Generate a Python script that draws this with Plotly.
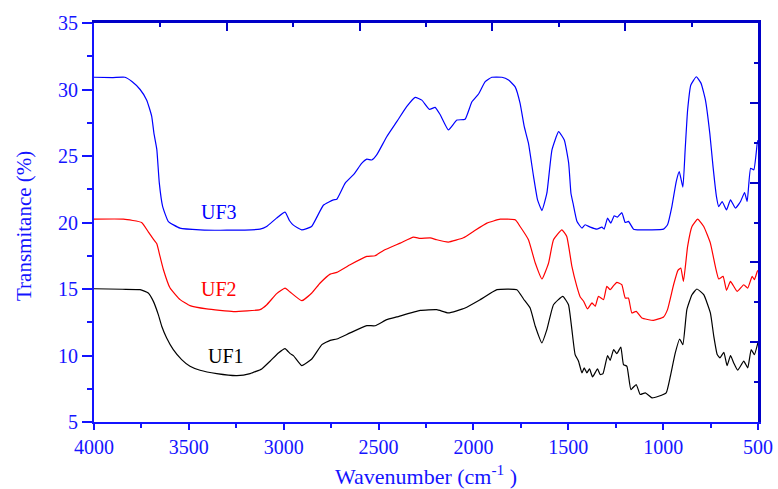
import plotly.graph_objects as go

# ---------------- data ----------------
wn_uf3 = [4000, 3900, 3837, 3800, 3757, 3722, 3696, 3684, 3669, 3656, 3638, 3608, 3547, 3441, 3300,
          3125, 3090, 3038, 2993, 2970, 2949, 2905, 2853, 2791, 2738, 2720, 2676, 2632, 2588, 2562,
          2536, 2510, 2457, 2404, 2352, 2307, 2272, 2232, 2202, 2175, 2132, 2087, 2044, 2008, 1973,
          1938, 1903, 1850, 1815, 1780, 1754, 1732, 1710, 1683, 1662, 1639, 1613, 1586, 1551, 1521,
          1498, 1486, 1475, 1454, 1428, 1411, 1384, 1349, 1323, 1311, 1293, 1276, 1258, 1241, 1218,
          1200, 1183, 1156, 1121, 998, 977, 954, 931, 915, 896, 884, 871, 854, 825, 800,
          777, 754, 737, 719, 707, 689, 666, 645, 619, 592, 571, 557, 539, 522, 504, 500]
t_uf3 = [30.92, 30.9, 30.92, 30.6, 30.0, 29.2, 28.0, 26.7, 25.5, 23.0, 21.2, 20.07, 19.58, 19.45, 19.42,
         19.5, 19.7, 20.33, 20.78, 20.15, 19.8, 19.45, 19.7, 21.3, 21.7, 21.75, 22.96, 23.6, 24.46, 24.76,
         24.7, 25.08, 26.45, 27.58, 28.71, 29.41, 29.2, 28.5, 28.66, 28.1, 26.96, 27.7, 27.76, 29.08, 29.66,
         30.59, 30.92, 30.92, 30.71, 30.2, 28.96, 27.2, 25.96, 23.45, 21.7, 20.9, 22.2, 25.46, 26.83, 26.2,
         24.46, 22.2, 21.45, 20.07, 19.58, 19.83, 19.65, 19.5, 19.65, 19.5, 20.33, 19.95, 20.5, 20.4, 20.75,
         20.0, 20.08, 19.5, 19.45, 19.5, 19.83, 21.2, 23.08, 23.83, 22.66, 25.46, 28.46, 30.34, 30.96, 30.46,
         29.2, 26.7, 24.2, 21.95, 21.2, 21.58, 20.95, 21.7, 21.08, 21.58, 22.25, 21.58, 24.08, 23.96, 25.96, 26.2]

wn_uf2 = [4000, 3845, 3749, 3714, 3690, 3669, 3652, 3634, 3599, 3546, 3494, 3406, 3265, 3125, 3089,
          3037, 2993, 2966, 2905, 2852, 2808, 2755, 2720, 2650, 2562, 2518, 2474, 2386, 2316, 2281,
          2228, 2193, 2132, 2053, 2000, 1929, 1859, 1780, 1754, 1710, 1674, 1639, 1604, 1578, 1534,
          1508, 1481, 1455, 1437, 1420, 1399, 1375, 1358, 1341, 1314, 1297, 1279, 1261, 1244, 1218,
          1200, 1183, 1165, 1142, 1112, 1051, 998, 977, 945, 922, 907, 893, 871, 848, 818,
          786, 751, 725, 707, 684, 666, 645, 610, 575, 554, 531, 519, 504, 500]
t_uf2 = [20.25, 20.25, 20.0, 19.3, 18.8, 18.4, 17.45, 16.45, 15.07, 14.2, 13.75, 13.5, 13.3, 13.45, 13.82,
         14.65, 15.07, 14.77, 14.12, 14.7, 15.45, 16.12, 16.25, 16.82, 17.45, 17.5, 17.9, 18.45, 18.9, 18.8,
         18.85, 18.7, 18.53, 18.85, 19.33, 19.95, 20.25, 20.2, 19.7, 18.7, 16.95, 15.75, 16.95, 18.7, 19.45,
         18.95, 16.7, 15.2, 14.4, 14.1, 13.5, 13.95, 13.7, 14.45, 14.2, 15.2, 14.95, 15.25, 15.5, 15.32,
         14.32, 14.32, 13.2, 13.32, 12.82, 12.64, 12.9, 13.45, 15.32, 16.4, 16.57, 15.57, 18.2, 19.7, 20.25,
         19.7, 18.45, 16.7, 15.75, 15.95, 14.9, 15.57, 14.82, 15.32, 15.07, 15.95, 15.7, 16.32, 16.4]

wn_uf1 = [4000, 3850, 3757, 3714, 3687, 3661, 3643, 3617, 3582, 3538, 3494, 3441, 3353, 3247, 3177,
          3116, 3072, 3028, 2993, 2966, 2949, 2905, 2852, 2799, 2755, 2720, 2650, 2562, 2518, 2457,
          2404, 2281, 2193, 2132, 2044, 1964, 1876, 1771, 1736, 1701, 1674, 1639, 1613, 1578, 1529,
          1499, 1481, 1464, 1446, 1428, 1416, 1402, 1388, 1372, 1346, 1332, 1317, 1293, 1279, 1261,
          1244, 1223, 1209, 1191, 1170, 1142, 1121, 1094, 1059, 1024, 984, 962, 936, 913, 896,
          875, 848, 822, 786, 751, 733, 715, 701, 680, 663, 645, 628, 607, 575, 554,
          536, 519, 501, 500]
t_uf1 = [15.02, 14.98, 14.95, 14.7, 14.07, 13.07, 12.2, 11.32, 10.44, 9.69, 9.19, 8.89, 8.64, 8.49, 8.64,
         8.99, 9.57, 10.19, 10.52, 10.14, 9.99, 9.24, 9.74, 10.82, 11.14, 11.24, 11.7, 12.24, 12.24, 12.7,
         12.9, 13.39, 13.45, 13.2, 13.57, 14.2, 14.95, 14.95, 14.25, 13.57, 12.2, 10.95, 11.94, 13.82, 14.45,
         13.82, 11.94, 10.07, 9.57, 8.69, 9.07, 8.69, 8.99, 8.39, 8.99, 8.57, 8.64, 9.99, 9.64, 10.44,
         10.14, 10.64, 9.32, 9.19, 7.44, 7.82, 7.07, 7.19, 6.82, 6.94, 7.19, 8.44, 10.19, 11.24, 10.82,
         13.45, 14.57, 15.0, 14.57, 13.2, 11.44, 10.07, 9.82, 10.24, 9.24, 9.99, 9.44, 8.89, 9.57, 9.07,
         10.44, 10.07, 10.94, 11.0]

series_names = ["UF3", "UF2", "UF1"]
series_colors = ["#0000ff", "#ff0000", "#000000"]
label_pos = [(3341, 20.8), (3341, 15.0), (3304, 10.0)]

x_ticks = [4000, 3500, 3000, 2500, 2000, 1500, 1000, 500]
y_ticks = [5, 10, 15, 20, 25, 30, 35]

# ---------------- figure ----------------
FONT = "Liberation Serif, Times New Roman, serif"
BLUE = "#1414ff"
DARK = "#0000c8"
W, H = 778, 489
# plot box in page pixels: left 94, right 758, top 23, bottom 422
ML, MT, MR, MB = 94, 23, W - 758, H - 422
PW, PH = W - ML - MR, H - MT - MB


def paper_x(px):
    return (px - ML) / PW


def paper_y(py):
    return (H - MB - py) / PH


fig = go.Figure()
for wn, t, name, col in zip([wn_uf3, wn_uf2, wn_uf1], [t_uf3, t_uf2, t_uf1], series_names, series_colors):
    fig.add_trace(go.Scatter(x=wn, y=t, mode="lines", name=name,
                             line=dict(color=col, width=1.2, shape="spline", smoothing=0.4),
                             showlegend=False, hoverinfo="skip"))

# invisible trace for mirrored frame axes
fig.add_trace(go.Scatter(x=[0, 5], y=[0, 5], xaxis="x2", yaxis="y2", mode="lines",
                         line=dict(width=0, color="rgba(0,0,0,0)"), showlegend=False, hoverinfo="skip"))

for (xp, yp), name, col in zip(label_pos, series_names, series_colors):
    fig.add_annotation(x=xp, y=yp, text=name, showarrow=False,
                       font=dict(family=FONT, size=20, color=col))

# axis titles (placed in page pixels)
fig.add_annotation(xref="paper", yref="paper", x=paper_x(426), y=paper_y(475),
                   text="Wavenumber (cm<sup>-1</sup> )", showarrow=False,
                   xanchor="center", yanchor="middle",
                   font=dict(family=FONT, size=22, color=BLUE))
fig.add_annotation(xref="paper", yref="paper", x=paper_x(24), y=paper_y(226),
                   text="Transmitance (%)", showarrow=False, textangle=-90,
                   xanchor="center", yanchor="middle",
                   font=dict(family=FONT, size=21, color=BLUE))

fig.update_layout(
    width=W, height=H,
    margin=dict(l=ML, r=MR, t=MT, b=MB, autoexpand=False),
    paper_bgcolor="white", plot_bgcolor="white",
    font=dict(family=FONT, color=BLUE),
    xaxis=dict(range=[4000, 500], tickvals=x_ticks, ticks="outside", ticklen=6, tickwidth=2,
               tickcolor=BLUE, showline=True, linecolor=BLUE, linewidth=2, showgrid=False,
               zeroline=False, automargin=False, ticklabeloverflow="allow",
               tickfont=dict(family=FONT, size=20, color=BLUE),
               minor=dict(dtick=250, tick0=500, ticks="outside", ticklen=4, tickwidth=2, tickcolor=BLUE)),
    yaxis=dict(range=[5, 35], tickvals=y_ticks, ticks="outside", ticklen=10, tickwidth=2,
               tickcolor=BLUE, showline=True, linecolor=BLUE, linewidth=2, showgrid=False,
               zeroline=False, automargin=False, ticklabeloverflow="allow",
               tickfont=dict(family=FONT, size=20, color=BLUE),
               minor=dict(dtick=2.5, tick0=5, ticks="outside", ticklen=5, tickwidth=2, tickcolor=BLUE)),
    xaxis2=dict(overlaying="x", side="top", range=[0, 5], dtick=1, ticks="inside", ticklen=8,
                tickwidth=2, tickcolor=DARK, showline=True, linecolor=DARK, linewidth=3,
                showticklabels=False, showgrid=False, zeroline=False, automargin=False,
                minor=dict(dtick=0.5, ticks="inside", ticklen=4, tickwidth=2, tickcolor=DARK)),
    yaxis2=dict(overlaying="y", side="right", range=[0, 5], dtick=1, ticks="inside", ticklen=8,
                tickwidth=2, tickcolor=DARK, showline=True, linecolor=DARK, linewidth=3,
                showticklabels=False, showgrid=False, zeroline=False, automargin=False,
                minor=dict(dtick=0.5, ticks="inside", ticklen=4, tickwidth=2, tickcolor=DARK)),
)

# remove the default page margin so the figure fills the 778x489 window exactly
fig.write_html("out.html", config={"displayModeBar": False},
               post_script="document.body.style.margin='0';document.body.style.overflow='hidden';")
